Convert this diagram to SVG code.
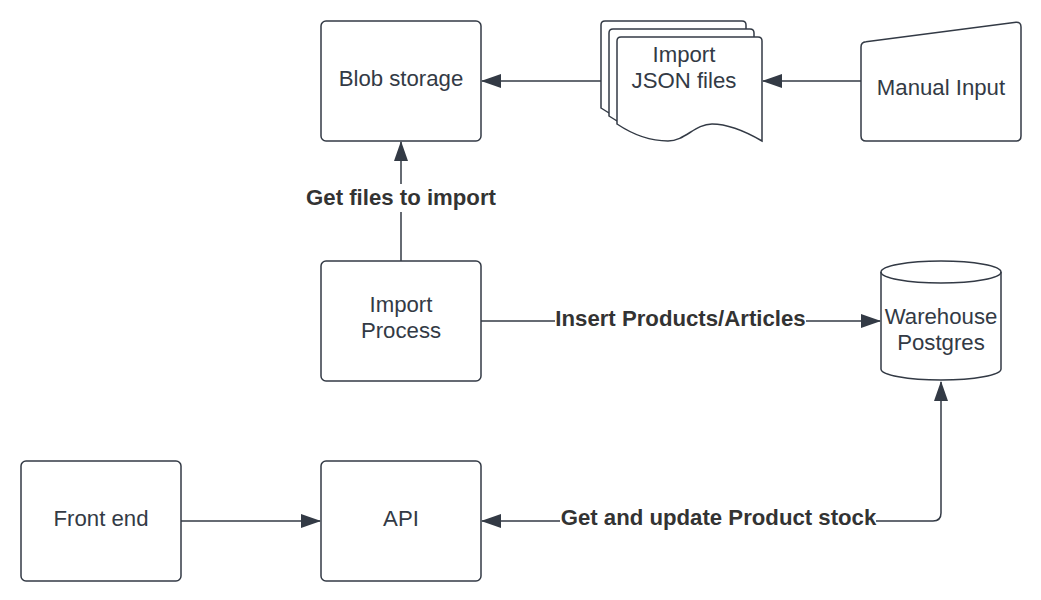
<svg xmlns="http://www.w3.org/2000/svg" width="1041" height="600" viewBox="0 0 1041 600">
<defs>
<style>
.s{fill:#fff;stroke:#333a45;stroke-width:1.5}
.t{font-family:"Liberation Sans",Arial,sans-serif;font-size:22.2px;fill:#333a45;text-anchor:middle}
.l{font-family:"Liberation Sans",Arial,sans-serif;font-size:22.2px;font-weight:bold;fill:#333333;text-anchor:middle}
.c{fill:none;stroke:#333a45;stroke-width:1.5}
.bg{fill:#fff}
</style>
<marker id="a" viewBox="0 0 20 14" refX="19" refY="7" markerWidth="20" markerHeight="14" markerUnits="userSpaceOnUse" orient="auto-start-reverse">
<path d="M0,0 L20,7 L0,14 Z" fill="#333a45"/>
</marker>
<path id="doc" d="M0,4 Q0,0 4,0 H141 Q145,0 145,4 V104 C133,97 113,87 95,87 C78,87 68,104 51,104 C33,104 18,99 0,87 Z"/>
</defs>
<rect width="1041" height="600" fill="#fff"/>
<g id="connectors">
<line class="c" x1="601" y1="81" x2="482" y2="81" marker-end="url(#a)"/>
<line class="c" x1="861" y1="81" x2="763" y2="81" marker-end="url(#a)"/>
<line class="c" x1="401" y1="261" x2="401" y2="142" marker-end="url(#a)"/>
<line class="c" x1="481" y1="321" x2="880" y2="321" marker-end="url(#a)"/>
<path class="c" d="M941,382 V513 Q941,521 933,521 H482" marker-start="url(#a)" marker-end="url(#a)"/>
<line class="c" x1="181" y1="521" x2="320" y2="521" marker-end="url(#a)"/>
<rect class="bg" x="303" y="184" width="196" height="28"/>
<rect class="bg" x="555" y="306" width="251" height="28"/>
<rect class="bg" x="560" y="506" width="316" height="28"/>
<text class="l" x="401" y="205">Get files to import</text>
<text class="l" x="680.5" y="326">Insert Products/Articles</text>
<text class="l" x="718.5" y="525">Get and update Product stock</text>
</g>
<g id="blob">
<rect class="s" x="321" y="21" width="160" height="120" rx="5"/>
<text class="t" x="401" y="86">Blob storage</text>
</g>
<g id="json">
<use href="#doc" class="s" transform="translate(601,21)"/>
<use href="#doc" class="s" transform="translate(609,29)"/>
<path class="s" d="M617,41 Q617,37 621,37 H758 Q762,37 762,41 V141 C750,134 730,124 712,124 C695,124 685,141 668,141 C650,141 635,136 617,124 Z"/>
<text class="t" x="684" y="62">Import</text>
<text class="t" x="684" y="88">JSON files</text>
</g>
<g id="manual">
<path class="s" d="M861,47 Q861,42 866,41.7 L1016,22.3 Q1021,22 1021,27 V136 Q1021,141 1016,141 H866 Q861,141 861,136 Z"/>
<text class="t" x="941" y="95">Manual Input</text>
</g>
<g id="import">
<rect class="s" x="321" y="261" width="160" height="120" rx="5"/>
<text class="t" x="401" y="312">Import</text>
<text class="t" x="401" y="338">Process</text>
</g>
<g id="warehouse">
<path class="s" d="M881,272 A60,11 0 0 1 1001,272 V369 A60,11 0 0 1 881,369 Z"/>
<path class="c" d="M881,272 A60,11 0 0 0 1001,272"/>
<text class="t" x="941" y="324">Warehouse</text>
<text class="t" x="941" y="350">Postgres</text>
</g>
<g id="frontend">
<rect class="s" x="21" y="461" width="160" height="120" rx="5"/>
<text class="t" x="101" y="526">Front end</text>
</g>
<g id="api">
<rect class="s" x="321" y="461" width="160" height="120" rx="5"/>
<text class="t" x="401" y="526">API</text>
</g>
</svg>
